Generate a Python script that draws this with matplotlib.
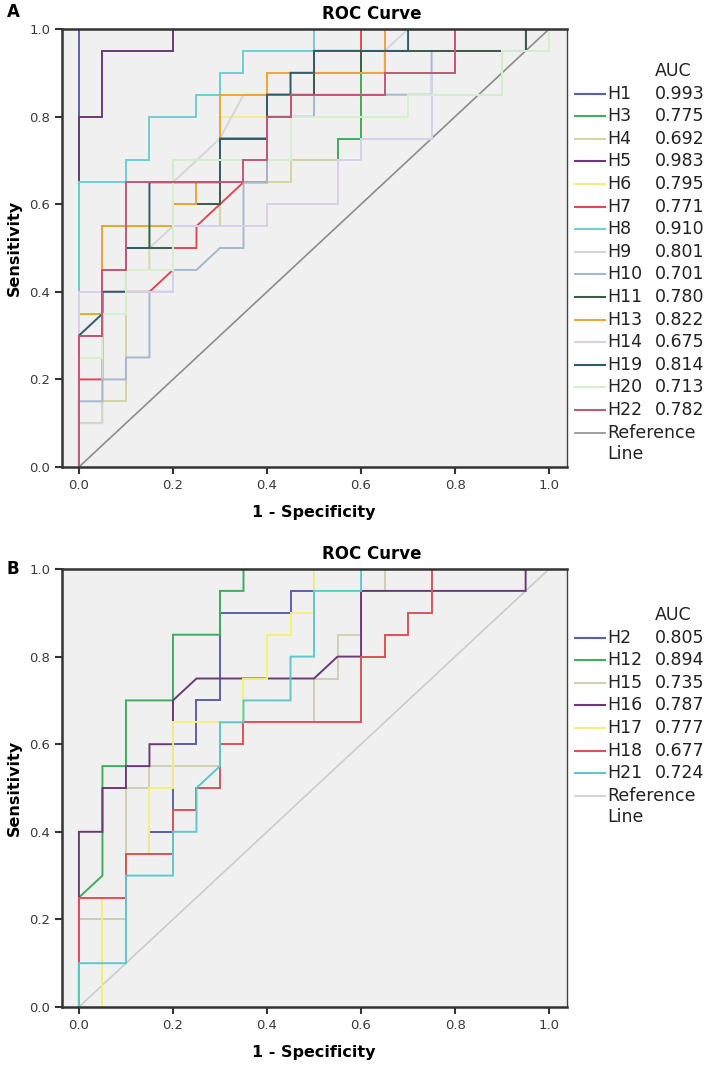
import matplotlib
matplotlib.use("Agg")
import matplotlib.pyplot as plt
from matplotlib.lines import Line2D

W, H = 714, 1068

# ---- panel A data: ROC step curves (1-specificity, sensitivity) ----
a_names = ["H1", "H3", "H4", "H5", "H6", "H7", "H8", "H9", "H10", "H11",
           "H13", "H14", "H19", "H20", "H22"]
a_auc = ["0.993", "0.775", "0.692", "0.983", "0.795", "0.771", "0.910", "0.801",
         "0.701", "0.780", "0.822", "0.675", "0.814", "0.713", "0.782"]
a_colors = ["#5a5fb0", "#3cae5c", "#d4d4a4", "#6a3a78", "#f2ee84", "#e04850",
            "#6cd0d4", "#d6d6d6", "#a4b8d0", "#3c5a4a", "#eea634", "#d8d0ec",
            "#2e5c6c", "#d6efcc", "#c05878"]
a_x = [
    [0, 0, 1],
    [0, 0, 0.05, 0.05, 0.2, 0.2, 0.55, 0.55, 0.6, 0.6, 0.65, 0.65, 1],
    [0, 0, 0.05, 0.05, 0.1, 0.1, 0.15, 0.15, 0.3, 0.3, 0.45, 0.45, 0.6, 0.6, 0.75, 0.75, 0.9, 0.9, 1, 1],
    [0, 0, 0.05, 0.05, 0.2, 0.2, 1],
    [0, 0, 0.05, 0.05, 0.15, 0.15, 0.2, 0.2, 0.3, 0.3, 0.5, 0.5, 0.65, 0.65, 1],
    [0, 0, 0.05, 0.05, 0.15, 0.2, 0.2, 0.25, 0.25, 0.35, 0.4, 0.4, 0.5, 0.5, 0.6, 0.6, 1],
    [0, 0, 0.1, 0.1, 0.15, 0.15, 0.25, 0.25, 0.3, 0.3, 0.35, 0.35, 0.5, 0.5, 1],
    [0, 0, 0.05, 0.05, 0.15, 0.15, 0.2, 0.2, 0.25, 0.3, 0.35, 0.45, 0.45, 0.65, 0.65, 0.7, 1],
    [0, 0, 0.05, 0.05, 0.1, 0.1, 0.15, 0.15, 0.2, 0.2, 0.25, 0.3, 0.35, 0.35, 0.4, 0.4, 0.5, 0.5,
     0.75, 0.75, 0.95, 0.95, 1],
    [0, 0, 0.05, 0.05, 0.1, 0.1, 0.2, 0.2, 0.3, 0.3, 0.4, 0.4, 0.45, 0.45, 0.5, 0.5, 0.6, 0.6,
     0.95, 0.95, 1],
    [0, 0, 0.05, 0.05, 0.2, 0.2, 0.25, 0.25, 0.3, 0.3, 0.4, 0.4, 0.65, 0.65, 1],
    [0, 0, 0.2, 0.2, 0.4, 0.4, 0.55, 0.55, 0.6, 0.6, 0.75, 0.75, 0.8, 0.8, 1],
    [0, 0, 0.05, 0.05, 0.1, 0.1, 0.15, 0.15, 0.3, 0.3, 0.4, 0.4, 0.45, 0.45, 0.5, 0.5, 0.7, 0.7, 1],
    [0, 0, 0.05, 0.05, 0.1, 0.1, 0.2, 0.2, 0.45, 0.45, 0.7, 0.7, 0.9, 0.9, 1, 1],
    [0, 0, 0.05, 0.05, 0.1, 0.1, 0.35, 0.35, 0.4, 0.4, 0.45, 0.45, 0.65, 0.65, 0.8, 0.8, 1],
]
a_y = [
    [0, 1, 1],
    [0, 0.35, 0.35, 0.55, 0.55, 0.7, 0.7, 0.75, 0.75, 0.9, 0.9, 1, 1],
    [0, 0.1, 0.1, 0.15, 0.15, 0.5, 0.5, 0.55, 0.55, 0.65, 0.65, 0.7, 0.7, 0.75, 0.75, 0.85, 0.85, 0.95, 0.95, 1],
    [0, 0.8, 0.8, 0.95, 0.95, 1, 1],
    [0, 0.35, 0.35, 0.45, 0.45, 0.55, 0.55, 0.6, 0.6, 0.8, 0.8, 0.95, 0.95, 1, 1],
    [0, 0.2, 0.2, 0.4, 0.4, 0.45, 0.5, 0.5, 0.55, 0.65, 0.65, 0.85, 0.85, 0.95, 0.95, 1, 1],
    [0, 0.65, 0.65, 0.7, 0.7, 0.8, 0.8, 0.85, 0.85, 0.9, 0.9, 0.95, 0.95, 1, 1],
    [0, 0.1, 0.1, 0.45, 0.45, 0.5, 0.55, 0.65, 0.7, 0.75, 0.85, 0.85, 0.9, 0.9, 0.95, 1, 1],
    [0, 0.15, 0.15, 0.2, 0.2, 0.25, 0.25, 0.4, 0.4, 0.45, 0.45, 0.5, 0.5, 0.65, 0.65, 0.8, 0.8, 0.85,
     0.85, 0.95, 0.95, 1, 1],
    [0, 0.3, 0.3, 0.4, 0.4, 0.5, 0.5, 0.6, 0.6, 0.75, 0.75, 0.8, 0.8, 0.85, 0.85, 0.9, 0.9, 0.95,
     0.95, 1, 1],
    [0, 0.35, 0.35, 0.55, 0.55, 0.6, 0.6, 0.65, 0.65, 0.85, 0.85, 0.9, 0.9, 1, 1],
    [0, 0.4, 0.4, 0.55, 0.55, 0.6, 0.6, 0.7, 0.7, 0.75, 0.75, 0.9, 0.9, 1, 1],
    [0, 0.3, 0.35, 0.4, 0.4, 0.5, 0.5, 0.65, 0.65, 0.75, 0.75, 0.85, 0.85, 0.9, 0.9, 0.95, 0.95, 1, 1],
    [0, 0.25, 0.25, 0.35, 0.35, 0.45, 0.45, 0.7, 0.7, 0.8, 0.8, 0.85, 0.85, 0.95, 0.95, 1],
    [0, 0.3, 0.3, 0.45, 0.45, 0.65, 0.65, 0.7, 0.7, 0.8, 0.8, 0.85, 0.85, 0.9, 0.9, 1, 1],
]

# ---- panel B data ----
b_names = ["H2", "H12", "H15", "H16", "H17", "H18", "H21"]
b_auc = ["0.805", "0.894", "0.735", "0.787", "0.777", "0.677", "0.724"]
b_colors = ["#5a5fb0", "#3cae5c", "#d0d0b4", "#6a3a78", "#f4f07a", "#e05058", "#5cc8cc"]
b_x = [
    [0, 0, 0.1, 0.1, 0.15, 0.15, 0.2, 0.2, 0.25, 0.25, 0.3, 0.3, 0.45, 0.45, 0.5, 0.5, 1],
    [0, 0, 0.05, 0.05, 0.1, 0.1, 0.2, 0.2, 0.3, 0.3, 0.35, 0.35, 1],
    [0, 0, 0.1, 0.1, 0.15, 0.15, 0.3, 0.3, 0.5, 0.5, 0.55, 0.55, 0.6, 0.6, 0.65, 0.65, 1],
    [0, 0, 0.05, 0.05, 0.1, 0.1, 0.15, 0.15, 0.2, 0.2, 0.25, 0.5, 0.55, 0.6, 0.6, 0.95, 0.95, 1],
    [0, 0.05, 0.05, 0.1, 0.1, 0.15, 0.15, 0.2, 0.2, 0.35, 0.35, 0.4, 0.4, 0.45, 0.45, 0.5, 0.5, 1],
    [0, 0, 0.1, 0.1, 0.2, 0.2, 0.25, 0.25, 0.3, 0.3, 0.35, 0.35, 0.6, 0.6, 0.65, 0.65, 0.7, 0.7, 0.75, 0.75, 1],
    [0, 0, 0.1, 0.1, 0.2, 0.2, 0.25, 0.25, 0.3, 0.3, 0.35, 0.35, 0.45, 0.45, 0.5, 0.5, 0.6, 0.6, 1],
]
b_y = [
    [0, 0.2, 0.2, 0.35, 0.35, 0.4, 0.4, 0.6, 0.6, 0.7, 0.7, 0.9, 0.9, 0.95, 0.95, 1, 1],
    [0, 0.25, 0.3, 0.55, 0.55, 0.7, 0.7, 0.85, 0.85, 0.95, 0.95, 1, 1],
    [0, 0.2, 0.2, 0.5, 0.5, 0.55, 0.55, 0.65, 0.65, 0.75, 0.75, 0.85, 0.85, 0.95, 0.95, 1, 1],
    [0, 0.4, 0.4, 0.5, 0.5, 0.55, 0.55, 0.6, 0.6, 0.7, 0.75, 0.75, 0.8, 0.8, 0.95, 0.95, 1, 1],
    [0, 0, 0.25, 0.25, 0.35, 0.35, 0.5, 0.5, 0.65, 0.65, 0.75, 0.75, 0.85, 0.85, 0.9, 0.9, 1, 1],
    [0, 0.25, 0.25, 0.35, 0.35, 0.45, 0.45, 0.5, 0.5, 0.6, 0.6, 0.65, 0.65, 0.8, 0.8, 0.85, 0.85, 0.9, 0.9, 1, 1],
    [0, 0.1, 0.1, 0.3, 0.3, 0.4, 0.4, 0.5, 0.55, 0.65, 0.65, 0.7, 0.7, 0.8, 0.8, 0.95, 0.95, 1, 1],
]

ticks = [0.0, 0.2, 0.4, 0.6, 0.8, 1.0]


def px(x, y):
    return x / W, 1 - y / H


def panel(top, bottom, xs, ys, colors, names, aucs, ref_color, letter, leg_top):
    l, b = px(62, bottom)
    r, t = px(567, top)
    ax = fig.add_axes([l, b, r - l, t - b])
    ax.set_facecolor("#f0f0f0")
    ax.plot([0, 1], [0, 1], color=ref_color, lw=1.2, zorder=1)
    for x, y, c in zip(xs, ys, colors):
        ax.plot(x, y, color=c, lw=1.4, solid_joinstyle="miter", zorder=2)
    ax.set_xlim(-0.036, 1.038)
    ax.set_ylim(0, 1)
    ax.set_xticks(ticks)
    ax.set_yticks(ticks)
    ax.set_xticklabels(["%.1f" % v for v in ticks])
    ax.set_yticklabels(["%.1f" % v for v in ticks])
    ax.tick_params(direction="out", length=5, width=1.5, color="#333333",
                   labelsize=9.5, labelcolor="#3a3a3a")
    for s in ["left", "bottom", "top"]:
        ax.spines[s].set_linewidth(1.8)
        ax.spines[s].set_color("#333333")
    ax.spines["right"].set_linewidth(1.0)
    ax.spines["right"].set_color("#444444")
    fig.text(*px(314, bottom + 45), "1 - Specificity", fontsize=11.5,
             fontweight="bold", ha="center", va="center")
    fig.text(*px(14, (top + bottom) / 2), "Sensitivity", fontsize=11.5,
             fontweight="bold", ha="center", va="center", rotation=90)
    fig.text(*px(372, top - 15), "ROC Curve", fontsize=12, fontweight="bold",
             ha="center", va="center")
    fig.text(*px(13, 12 if letter == "A" else top), letter, fontsize=12,
             fontweight="bold", ha="center", va="center")

    # legend drawn by hand, SPSS style
    step = 22.6
    fig.text(*px(655, leg_top), "AUC", fontsize=12.5, color="#222222",
             ha="left", va="center")
    for i, (n, a, c) in enumerate(zip(names, aucs, colors)):
        yy = leg_top + step * (i + 1)
        x0, y0 = px(575, yy)
        x1, _ = px(605, yy)
        fig.add_artist(Line2D([x0, x1], [y0, y0], color=c, lw=1.5,
                              transform=fig.transFigure))
        fig.text(*px(607, yy), n, fontsize=12.5, color="#222222",
                 ha="left", va="center")
        fig.text(*px(655, yy), a, fontsize=12.5, color="#222222",
                 ha="left", va="center")
    yy = leg_top + step * (len(names) + 1)
    x0, y0 = px(575, yy)
    x1, _ = px(605, yy)
    fig.add_artist(Line2D([x0, x1], [y0, y0], color=ref_color, lw=1.2,
                          transform=fig.transFigure))
    fig.text(*px(607, yy), "Reference", fontsize=12.5, color="#222222",
             ha="left", va="center")
    fig.text(*px(607, yy + step - 1), "Line", fontsize=12.5, color="#222222",
             ha="left", va="center")
    return ax


fig = plt.figure(figsize=(W / 100, H / 100), dpi=100)
panel(29, 467, a_x, a_y, a_colors, a_names, a_auc, "#8c8c8c", "A", 71)
panel(569, 1007, b_x, b_y, b_colors, b_names, b_auc, "#cccccc", "B", 615)
fig.savefig("out.png", dpi=100)
